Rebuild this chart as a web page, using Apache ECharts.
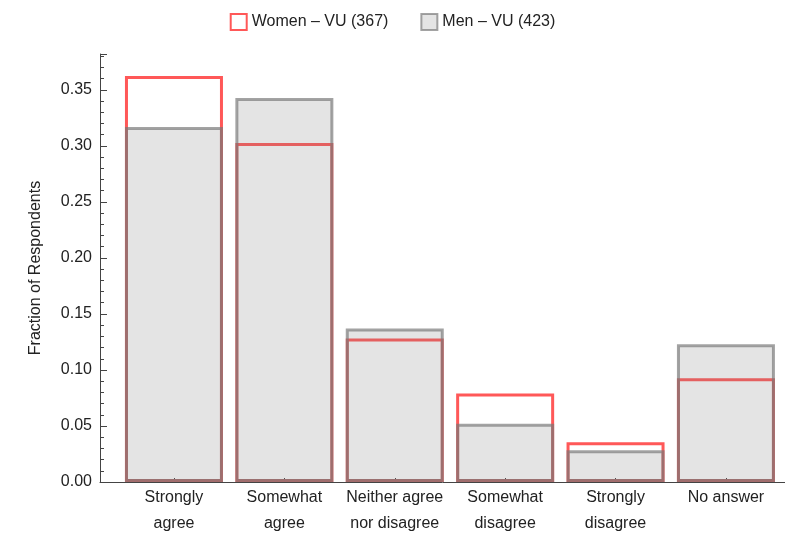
<!DOCTYPE html>
<html><head><meta charset="utf-8">
<script src="https://cdn.jsdelivr.net/npm/echarts@6/dist/echarts.min.js"></script>
<style>html,body{margin:0;padding:0;background:#fff}#c{width:785px;height:540px}</style>
</head><body><div id="c"></div>
<script>
var categories = ["Strongly\nagree", "Somewhat\nagree", "Neither agree\nnor disagree", "Somewhat\ndisagree", "Strongly\ndisagree", "No answer"];
var women = [0.3624, 0.3025, 0.1281, 0.0790, 0.0354, 0.0926];
var men = [0.3168, 0.3428, 0.1371, 0.0520, 0.0284, 0.1229];
var yTicks = [0, 0.05, 0.10, 0.15, 0.20, 0.25, 0.30, 0.35];
var positions = [1, 2, 3, 4, 5, 6];

var chart = echarts.init(document.getElementById('c'), null, {renderer: 'canvas'});
function pts(arr) { return arr.map(function (v, i) { return [positions[i], v]; }); }
var font = 'Liberation Sans, Arial, sans-serif';
chart.setOption({
  animation: false,
  backgroundColor: '#fff',
  textStyle: {fontFamily: font},
  legend: {
    top: 8, left: 'center', itemWidth: 16, itemHeight: 16, itemGap: 32, icon: 'rect',
    textStyle: {fontSize: 16, color: '#222', fontFamily: font},
    data: ['Women – VU (367)', 'Men – VU (423)']
  },
  grid: {left: 100, right: 0, top: 54, bottom: 58, containLabel: false},
  xAxis: {
    type: 'value', min: 0.33, max: 6.535,
    splitLine: {show: false},
    axisLine: {show: true, lineStyle: {color: '#444', width: 1}},
    axisTick: {show: true, inside: true, length: 4, lineStyle: {color: '#444'}, customValues: positions},
    axisLabel: {
      customValues: positions, color: '#222', fontSize: 16, lineHeight: 26, margin: 3, fontFamily: font,
      formatter: function (v) { var i = Math.round(v) - 1; return categories[i] || ''; }
    }
  },
  yAxis: {
    type: 'value', min: 0, max: 0.382, interval: 0.05,
    name: 'Fraction of Respondents', nameLocation: 'middle', nameGap: 56, nameRotate: 90,
    nameTextStyle: {fontSize: 16, color: '#222', fontFamily: font},
    splitLine: {show: false},
    axisLine: {show: true, lineStyle: {color: '#444', width: 1}},
    axisTick: {show: true, inside: true, length: 7, lineStyle: {color: '#444'}},
    minorTick: {show: true, splitNumber: 5, length: 4, lineStyle: {color: '#444'}},
    axisLabel: {
      color: '#222', fontSize: 16, margin: 8, showMaxLabel: false, fontFamily: font,
      formatter: function (v) { return yTicks.some(function (t) { return Math.abs(t - v) < 1e-9; }) ? v.toFixed(2) : ''; }
    }
  },
  series: [
    {
      name: 'Women – VU (367)', type: 'bar', barWidth: 98, barGap: '-100%',
      data: pts(women),
      itemStyle: {color: 'rgba(255,255,255,0)', borderColor: 'rgb(255,88,88)', borderWidth: 3}
    },
    {
      name: 'Men – VU (423)', type: 'bar', barWidth: 98, barGap: '-100%',
      data: pts(men),
      itemStyle: {color: 'rgba(128,128,128,0.21)', borderColor: 'rgba(120,120,120,0.68)', borderWidth: 3}
    }
  ]
});
</script></body></html>
